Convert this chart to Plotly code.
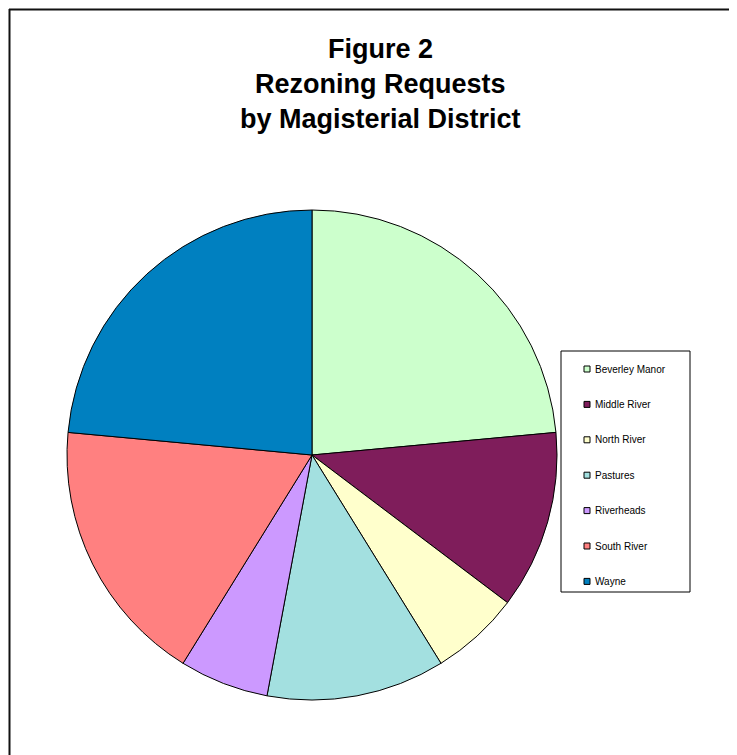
import plotly.graph_objects as go

# page offset: plotly html body places the figure at (8, 8)
OFF = 8
W, H = 737 - OFF, 755 - OFF

districts = ["Beverley Manor", "Middle River", "North River", "Pastures",
             "Riverheads", "South River", "Wayne"]
requests = [8, 4, 2, 4, 2, 6, 8]
colors = ["#CCFFCC", "#7F1D5B", "#FFFFCC", "#A3E0E0", "#CC99FF", "#FF8080", "#0080C0"]

title_lines = ["Figure 2", "Rezoning Requests", "by Magisterial District"]

def px(x):
    return (x - OFF) / W

def py(y):
    return 1 - (y - OFF) / H

cx, cy, r = 312, 455, 245

fig = go.Figure()
fig.add_trace(go.Pie(
    labels=districts,
    values=requests,
    sort=False,
    direction="clockwise",
    rotation=0,
    marker=dict(colors=colors, line=dict(color="#000000", width=1)),
    textinfo="none",
    hoverinfo="label+value+percent",
    showlegend=False,
    domain=dict(x=[px(cx - r), px(cx + r)], y=[py(cy + r), py(cy - r)]),
))

shapes = []
annotations = []

# chart border (top and left visible)
shapes.append(dict(type="line", xref="paper", yref="paper",
                   x0=px(9), x1=px(760), y0=py(9.5), y1=py(9.5),
                   line=dict(color="#111111", width=2)))
shapes.append(dict(type="line", xref="paper", yref="paper",
                   x0=px(9.5), x1=px(9.5), y0=py(9), y1=py(770),
                   line=dict(color="#111111", width=2)))

# title (centred on the full chart area)
for i, t in enumerate(title_lines):
    annotations.append(dict(text="<b>%s</b>" % t, xref="paper", yref="paper",
                            x=px(380), y=py(49 + 35 * i), xanchor="center", yanchor="middle",
                            showarrow=False,
                            font=dict(family="Liberation Sans, Arial", size=27, color="#000000")))

# legend box
lx0, ly0, lx1, ly1 = 561, 351, 690, 592
shapes.append(dict(type="rect", xref="paper", yref="paper",
                   x0=px(lx0), x1=px(lx1), y0=py(ly1), y1=py(ly0),
                   line=dict(color="#000000", width=1), fillcolor="#FFFFFF"))
for i, (name, col) in enumerate(zip(districts, colors)):
    yc = 369 + 35.4 * i
    shapes.append(dict(type="rect", xref="paper", yref="paper",
                       x0=px(584), x1=px(590), y0=py(yc + 3), y1=py(yc - 3),
                       line=dict(color="#000000", width=1), fillcolor=col))
    annotations.append(dict(text=name, xref="paper", yref="paper",
                            x=px(593), y=py(yc), xanchor="left", yanchor="middle",
                            showarrow=False,
                            font=dict(family="Liberation Sans, Arial", size=10, color="#000000")))

fig.update_layout(
    width=W, height=H,
    margin=dict(l=0, r=0, t=0, b=0),
    paper_bgcolor="#FFFFFF",
    plot_bgcolor="#FFFFFF",
    shapes=shapes,
    annotations=annotations,
    showlegend=False,
)

fig.write_html("out.html")
